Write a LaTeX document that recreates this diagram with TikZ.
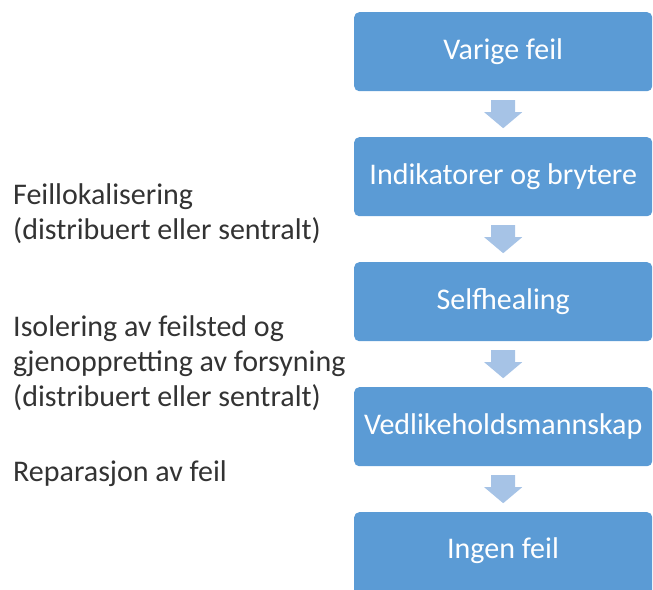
\documentclass[tikz,border=0pt]{standalone}
\usepackage{fontspec}
\setmainfont{Carlito}
\usetikzlibrary{calc}
\definecolor{boxblue}{HTML}{5B9BD5}
\definecolor{arrblue}{HTML}{A6C3E6}
\tikzset{
  stepbox/.style={fill=boxblue, draw=none, rounded corners=5pt, text=white,
    font=\fontsize{30}{35}\selectfont, minimum width=298pt, minimum height=79pt,
    inner sep=0pt, anchor=north west},
  sidetext/.style={font=\fontsize{30}{35}\selectfont, text=black!80, align=left,
    anchor=west, inner sep=0pt},
  arr/.style={fill=arrblue, draw=none}
}
\newcommand{\blockarrow}[1]{%
  \fill[arr] ($(#1)+(-12pt,14pt)$) -- ($(#1)+(12pt,14pt)$) -- ($(#1)+(12pt,2pt)$)
   -- ($(#1)+(19pt,2pt)$) -- ($(#1)+(0pt,-14pt)$) -- ($(#1)+(-19pt,2pt)$)
   -- ($(#1)+(-12pt,2pt)$) -- cycle;}
\begin{document}
\begin{tikzpicture}[x=1pt,y=-1pt]
\useasboundingbox (0,0) rectangle (653,589);
\begin{scope}
\clip (0,0) rectangle (653,589);
\node[stepbox] (b1) at (354,12) {Varige feil};
\node[stepbox] (b2) at (354,137) {Indikatorer og brytere};
\node[stepbox] (b3) at (354,262) {Selfhealing};
\node[stepbox] (b4) at (354,387) {Vedlikeholdsmannskap};
\node[stepbox, minimum height=90pt] (b5) at (354,512) {};
\node[font=\fontsize{30}{35}\selectfont, text=white] (b5t) at (503,551) {Ingen feil};
\end{scope}
\coordinate (m1) at ($(b1.south)!0.5!(b2.north)$);
\coordinate (m2) at ($(b2.south)!0.5!(b3.north)$);
\coordinate (m3) at ($(b3.south)!0.5!(b4.north)$);
\coordinate (m4) at ($(b4.south)!0.5!(b5.north)$);
\blockarrow{m1}
\blockarrow{m2}
\blockarrow{m3}
\blockarrow{m4}
\node[sidetext] (t1) at (13,214) {Feillokalisering\\(distribuert eller sentralt)};
\node[sidetext] (t2) at (13,363) {Isolering av feilsted og\\gjenoppretting av forsyning\\(distribuert eller sentralt)};
\node[sidetext] (t3) at (13,474) {Reparasjon av feil};
\end{tikzpicture}
\end{document}
